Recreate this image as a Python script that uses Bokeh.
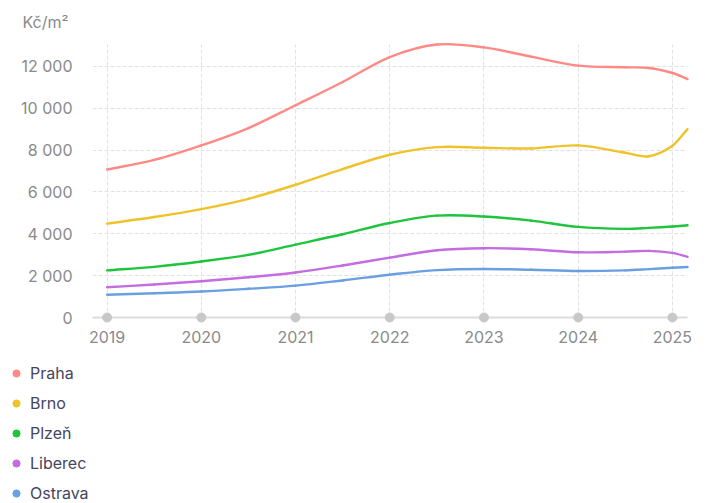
import numpy as np
from bokeh.plotting import figure
from bokeh.layouts import column
from bokeh.models import ColumnDataSource, FixedTicker, Legend, LegendItem, Range1d, Title
from bokeh.embed import file_html
from bokeh.resources import INLINE

# ---- data ----
years = [2019, 2019.5, 2020, 2020.5, 2021, 2021.5, 2022, 2022.5, 2023, 2023.5,
         2024, 2024.5, 2024.75, 2025, 2025.16]
cities = ["Praha", "Brno", "Plzeň", "Liberec", "Ostrava"]
praha = [7070, 7525, 8220, 9050, 10140, 11250, 12440, 13040, 12900, 12460,
         12030, 11950, 11920, 11680, 11390]
brno = [4485, 4800, 5180, 5670, 6340, 7090, 7775, 8140, 8110, 8075,
        8220, 7870, 7700, 8200, 9000]
plzen = [2250, 2420, 2675, 2990, 3480, 3975, 4515, 4865, 4825, 4630,
         4330, 4235, 4280, 4345, 4405]
liberec = [1445, 1575, 1730, 1920, 2150, 2485, 2860, 3210, 3310, 3260,
           3115, 3145, 3180, 3085, 2895]
ostrava = [1085, 1160, 1240, 1370, 1520, 1770, 2045, 2265, 2320, 2280,
           2220, 2250, 2310, 2375, 2410]
series = [praha, brno, plzen, liberec, ostrava]
colors = ["#ff8a85", "#f0c22a", "#1ec43c", "#c46de0", "#6a9fe2"]

tick_years = [2019, 2020, 2021, 2022, 2023, 2024, 2025]
tick_year_labels = ["2019", "2020", "2021", "2022", "2023", "2024", "2025"]
y_ticks = [0, 2000, 4000, 6000, 8000, 10000, 12000]
y_tick_labels = ["0", "2 000", "4 000", "6 000", "8 000", "10 000", "12 000"]
unit_label = "Kč/m²"

FONT = "Inter"
TICK_COLOR = "#8a8a8a"
LEGEND_COLOR = "#45455f"


def bezier_source(xs, ys):
    xs = np.asarray(xs, dtype=float)
    ys = np.asarray(ys, dtype=float)
    n = len(xs)
    m = np.zeros(n)
    for i in range(n):
        if i == 0:
            m[i] = (ys[1] - ys[0]) / (xs[1] - xs[0])
        elif i == n - 1:
            m[i] = (ys[-1] - ys[-2]) / (xs[-1] - xs[-2])
        else:
            m[i] = (ys[i + 1] - ys[i - 1]) / (xs[i + 1] - xs[i - 1])
    dx = xs[1:] - xs[:-1]
    return ColumnDataSource(dict(
        x0=xs[:-1], y0=ys[:-1], x1=xs[1:], y1=ys[1:],
        cx0=xs[:-1] + dx / 3, cy0=ys[:-1] + m[:-1] * dx / 3,
        cx1=xs[1:] - dx / 3, cy1=ys[1:] - m[1:] * dx / 3,
    ))


p = figure(width=707, height=360,
           x_range=Range1d(2018.845, years[-1]), y_range=Range1d(0, 13040),
           output_backend="svg", toolbar_location=None,
           min_border_left=92, min_border_right=20, min_border_top=42,
           min_border_bottom=43)
p.frame_align = False
p.outline_line_color = None
p.background_fill_color = "white"
p.border_fill_color = "white"

# unit label (as a left-aligned title above the frame)
p.add_layout(Title(text=unit_label, align="left", offset=-70, vertical_align="top",
                   standoff=22, text_font=FONT, text_font_size="16px",
                   text_font_style="normal", text_color=TICK_COLOR), "above")

# axes
p.xaxis.ticker = FixedTicker(ticks=tick_years)
p.xaxis.major_label_overrides = {t: l for t, l in zip(tick_years, tick_year_labels)}
p.xaxis.axis_line_color = "#dcdcdc"
p.xaxis.axis_line_width = 2
p.xaxis.major_tick_line_color = None
p.xaxis.minor_tick_line_color = None
p.xaxis.major_tick_out = 0
p.xaxis.major_label_standoff = 13
p.xaxis.major_label_text_font = FONT
p.xaxis.major_label_text_font_size = "16px"
p.xaxis.major_label_text_color = TICK_COLOR

p.yaxis.ticker = FixedTicker(ticks=y_ticks)
p.yaxis.major_label_overrides = {t: l for t, l in zip(y_ticks, y_tick_labels)}
p.yaxis.axis_line_color = None
p.yaxis.major_tick_line_color = None
p.yaxis.minor_tick_line_color = None
p.yaxis.major_tick_out = 0
p.yaxis.major_label_standoff = 20
p.yaxis.major_label_text_font = FONT
p.yaxis.major_label_text_font_size = "16px"
p.yaxis.major_label_text_color = TICK_COLOR

for g in (p.xgrid, p.ygrid):
    g.grid_line_color = "#e2e2e2"
    g.grid_line_dash = "4 2"
    g.grid_line_width = 1

# lines
for vals, c in zip(series, colors):
    p.bezier(x0="x0", y0="y0", x1="x1", y1="y1", cx0="cx0", cy0="cy0",
             cx1="cx1", cy1="cy1", source=bezier_source(years, vals),
             line_color=c, line_width=2.4, line_cap="round", level="overlay")

# axis dots
p.scatter(x=tick_years, y=[0] * len(tick_years), size=9, color="#c8c8c8",
          level="overlay")

# legend in its own small figure below the chart
pl = figure(width=707, height=143, x_range=Range1d(0, 1), y_range=Range1d(0, 1),
            x_axis_type=None, y_axis_type=None, output_backend="svg",
            toolbar_location=None, min_border=0,
            min_border_left=0, min_border_right=0, min_border_top=0,
            min_border_bottom=0)
pl.frame_align = False
pl.outline_line_color = None
pl.grid.visible = False
items = []
for name, c in zip(cities, colors):
    # legend-only renderer: no visible data point
    r = pl.scatter(x=[np.nan], y=[np.nan], size=7, color=c)
    items.append(LegendItem(label=name, renderers=[r]))
legend = Legend(items=items, location=(7, 0), orientation="vertical",
                padding=0, margin=0, spacing=10, label_height=20, glyph_height=18,
                glyph_width=18, label_standoff=5, label_text_font=FONT,
                label_text_font_size="16px", label_text_color=LEGEND_COLOR,
                background_fill_alpha=0, border_line_color=None)
pl.add_layout(legend)

layout = column(p, pl, spacing=0)
open("out.html", "w").write(file_html(layout, INLINE))
